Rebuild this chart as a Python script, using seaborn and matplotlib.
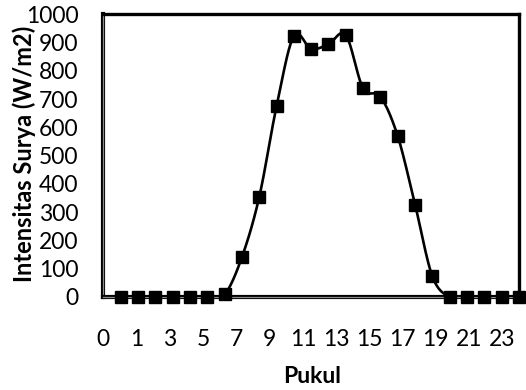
import numpy as np
import pandas as pd
import matplotlib
matplotlib.use("Agg")
import matplotlib.pyplot as plt
import matplotlib.patheffects as pe
import seaborn as sns

# ---- data ----
hours = list(range(1, 25))
intensity = [0, 0, 0, 0, 0, 0, 9, 141, 354, 675, 924, 878,
             895, 927, 738, 709, 569, 327, 73, 0, 0, 0, 0, 0]
xtick_labels = ["0", "1", "3", "5", "7", "9", "11", "13", "15", "17", "19", "21", "23"]
ytick_values = [0, 100, 200, 300, 400, 500, 600, 700, 800, 900, 1000]

sns.set_theme(style="white")
plt.rcParams['font.family'] = ['Lato', 'DejaVu Sans']


def smooth_path(xs, ys, n=20):
    """Excel-like smoothed line (Bezier with Catmull-Rom control points)."""
    xs = np.asarray(xs, float)
    ys = np.asarray(ys, float)
    px, py = [], []
    m = len(xs)
    for i in range(m - 1):
        i0 = max(i - 1, 0)
        i3 = min(i + 2, m - 1)
        p0 = np.array([xs[i0], ys[i0]])
        p1 = np.array([xs[i], ys[i]])
        p2 = np.array([xs[i + 1], ys[i + 1]])
        p3 = np.array([xs[i3], ys[i3]])
        c1 = p1 + (p2 - p0) / 6.0
        c2 = p2 - (p3 - p1) / 6.0
        t = np.linspace(0, 1, n, endpoint=(i == m - 2))
        b = ((1 - t) ** 3)[:, None] * p1 + (3 * (1 - t) ** 2 * t)[:, None] * c1 \
            + (3 * (1 - t) * t ** 2)[:, None] * c2 + (t ** 3)[:, None] * p2
        px.extend(b[:, 0])
        py.extend(b[:, 1])
    return np.array(px), np.array(py)


fig = plt.figure(figsize=(5.26, 3.9), dpi=100)
ax = fig.add_axes([0.1966, 0.2385, 0.790, 0.7244])

sx, sy = smooth_path(hours, intensity)
curve = pd.DataFrame({"x": sx, "y": sy})
pts = pd.DataFrame({"Pukul": hours, "Intensitas": intensity})

sns.lineplot(data=curve, x="x", y="y", sort=False, estimator=None,
             color="black", linewidth=1.9, ax=ax, zorder=5)
ax.plot(pts["Pukul"], pts["Intensitas"], linestyle="none", marker="s",
        markersize=8.5, color="black", zorder=6, clip_on=False)

ax.set_xlim(0, 24)
ax.set_ylim(0, 1000)
ax.set_yticks(ytick_values)
ax.set_yticklabels([str(v) for v in ytick_values])
ax.set_xticks(np.arange(len(xtick_labels)) * 24 / 12.5)
ax.set_xticklabels(xtick_labels)
ax.tick_params(axis="both", length=0, labelsize=16.5, colors="black")
ax.tick_params(axis="x", pad=23)
ax.tick_params(axis="y", pad=18)

ax.set_xlabel("Pukul", fontsize=16.5, fontweight="bold", color="black")
ax.set_ylabel("Intensitas Surya (W/m2)", fontsize=17, fontweight="bold",
              color="black", va="center")
ax.xaxis.set_label_coords(0.502, -0.28)
ax.yaxis.set_label_coords(-0.191, 0.505)
ax.xaxis.label.set_va("center")

for side in ["top", "right"]:
    ax.spines[side].set_visible(True)
    ax.spines[side].set_color("black")
    ax.spines[side].set_linewidth(2.4)
for side in ["left", "bottom"]:
    ax.spines[side].set_visible(True)
    ax.spines[side].set_color("#8a8a8a")
    ax.spines[side].set_linewidth(0.9)
    ax.spines[side].set_path_effects([pe.Stroke(linewidth=3.0, foreground="black"), pe.Normal()])

ax.grid(False)
fig.savefig("out.png", dpi=100, facecolor="white")
